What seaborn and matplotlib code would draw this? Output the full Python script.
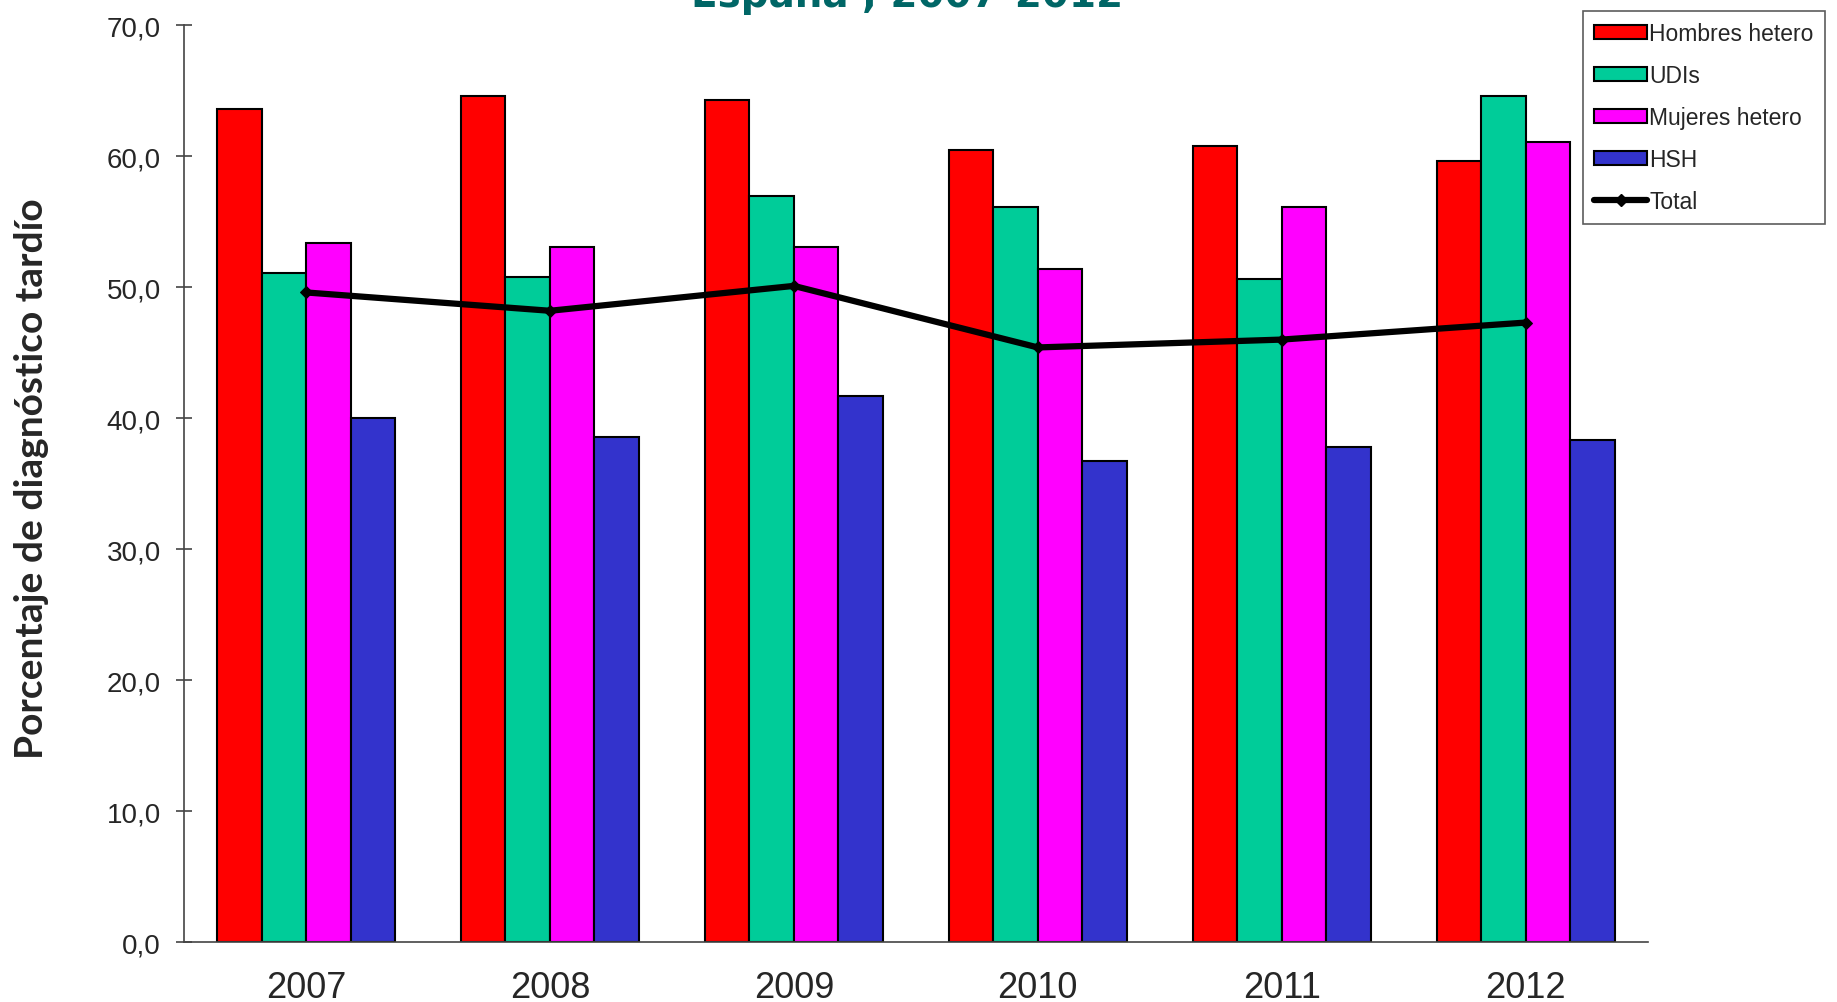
import numpy as np
import pandas as pd
import matplotlib
matplotlib.use("Agg")
import matplotlib.pyplot as plt
import seaborn as sns
from matplotlib.ticker import FuncFormatter, FixedLocator
from matplotlib.patches import Patch
from matplotlib.lines import Line2D

# Datos
years = ["2007", "2008", "2009", "2010", "2011", "2012"]
grupos = ["Hombres hetero", "UDIs", "Mujeres hetero", "HSH"]
hombres_hetero = [63.6, 64.6, 64.3, 60.5, 60.8, 59.6]
udis = [51.1, 50.8, 57.0, 56.1, 50.6, 64.6]
mujeres_hetero = [53.4, 53.1, 53.1, 51.4, 56.1, 61.1]
hsh = [40.0, 38.6, 41.7, 36.7, 37.8, 38.3]
total = [49.6, 48.2, 50.1, 45.4, 46.0, 47.3]
colores = ["#FF0000", "#00CC99", "#FF00FF", "#3333CC"]

# Tabla larga para seaborn
df = pd.DataFrame({
    "Año": years * 4,
    "Grupo": [g for g in grupos for _ in years],
    "Valor": hombres_hetero + udis + mujeres_hetero + hsh,
})

sns.set_style("white")
plt.rcParams["font.family"] = ["Liberation Sans", "DejaVu Sans"]

fig = plt.figure(figsize=(18.37, 10.03), dpi=100)
ax = fig.add_axes([0.1002, 0.0598, 0.7967, 0.914])

sns.barplot(data=df, x="Año", y="Valor", hue="Grupo", hue_order=grupos,
            order=years, palette=colores, width=0.73, gap=0,
            edgecolor="black", linewidth=1.5, saturation=1,
            legend=False, ax=ax)

sns.lineplot(x=np.arange(len(years)), y=total, color="black", lw=4.5,
             marker="D", markersize=6, markeredgecolor="black", ax=ax)

ax.set_xlim(-0.5, len(years) - 0.5)
ax.set_ylim(0, 70)
ax.set_yticks(np.arange(0, 71, 10))
ax.yaxis.set_major_formatter(FuncFormatter(lambda v, p: f"{v:.1f}".replace(".", ",")))

# Marcas del eje x en los límites de cada año, etiquetas en el centro
ax.xaxis.set_major_locator(FixedLocator(np.arange(-0.5, len(years), 1.0)))
ax.xaxis.set_minor_locator(FixedLocator(np.arange(len(years))))
ax.set_xticklabels([], minor=False)
ax.set_xticklabels(years, minor=True)
ax.tick_params(axis="x", which="major", direction="inout", length=16, width=1.2, color="#444444")
ax.tick_params(axis="x", which="minor", length=0, pad=20, labelsize=26)
ax.tick_params(axis="y", direction="inout", length=11.5, width=1.2, color="#444444",
               pad=11, labelsize=20, left=True)

for s in ["top", "right"]:
    ax.spines[s].set_visible(False)
for s in ["left", "bottom"]:
    ax.spines[s].set_color("#444444")
    ax.spines[s].set_linewidth(1.2)

ax.set_xlabel("")
ax.set_ylabel("Porcentaje de diagnóstico tardío", fontsize=28, fontweight="bold",
              family=["Lato", "DejaVu Sans"])
ax.yaxis.set_label_coords(-0.104, 0.506)
ax.yaxis.label.set_verticalalignment("center")

# Título (cortado en la parte superior)
fig.text(0.494, 0.993, "España , 2007-2012", ha="center", va="baseline",
         fontsize=28, fontweight="bold", color="#006666",
         family=["DejaVu Sans"])

handles = [Patch(facecolor=c, edgecolor="black", linewidth=1.5) for c in colores]
handles.append(Line2D([0], [0], color="black", lw=4.5, marker="D", markersize=6))
leg = fig.legend(handles, grupos + ["Total"], loc="upper left",
                 bbox_to_anchor=(0.8617, 0.988), fontsize=16.5, frameon=True,
                 fancybox=False, edgecolor="#333333", handlelength=2.3,
                 handleheight=0.55, handletextpad=0.1, labelspacing=0.82,
                 borderpad=0.5, borderaxespad=0)
leg.get_frame().set_linewidth(1.2)

fig.savefig("out.png", dpi=100)
